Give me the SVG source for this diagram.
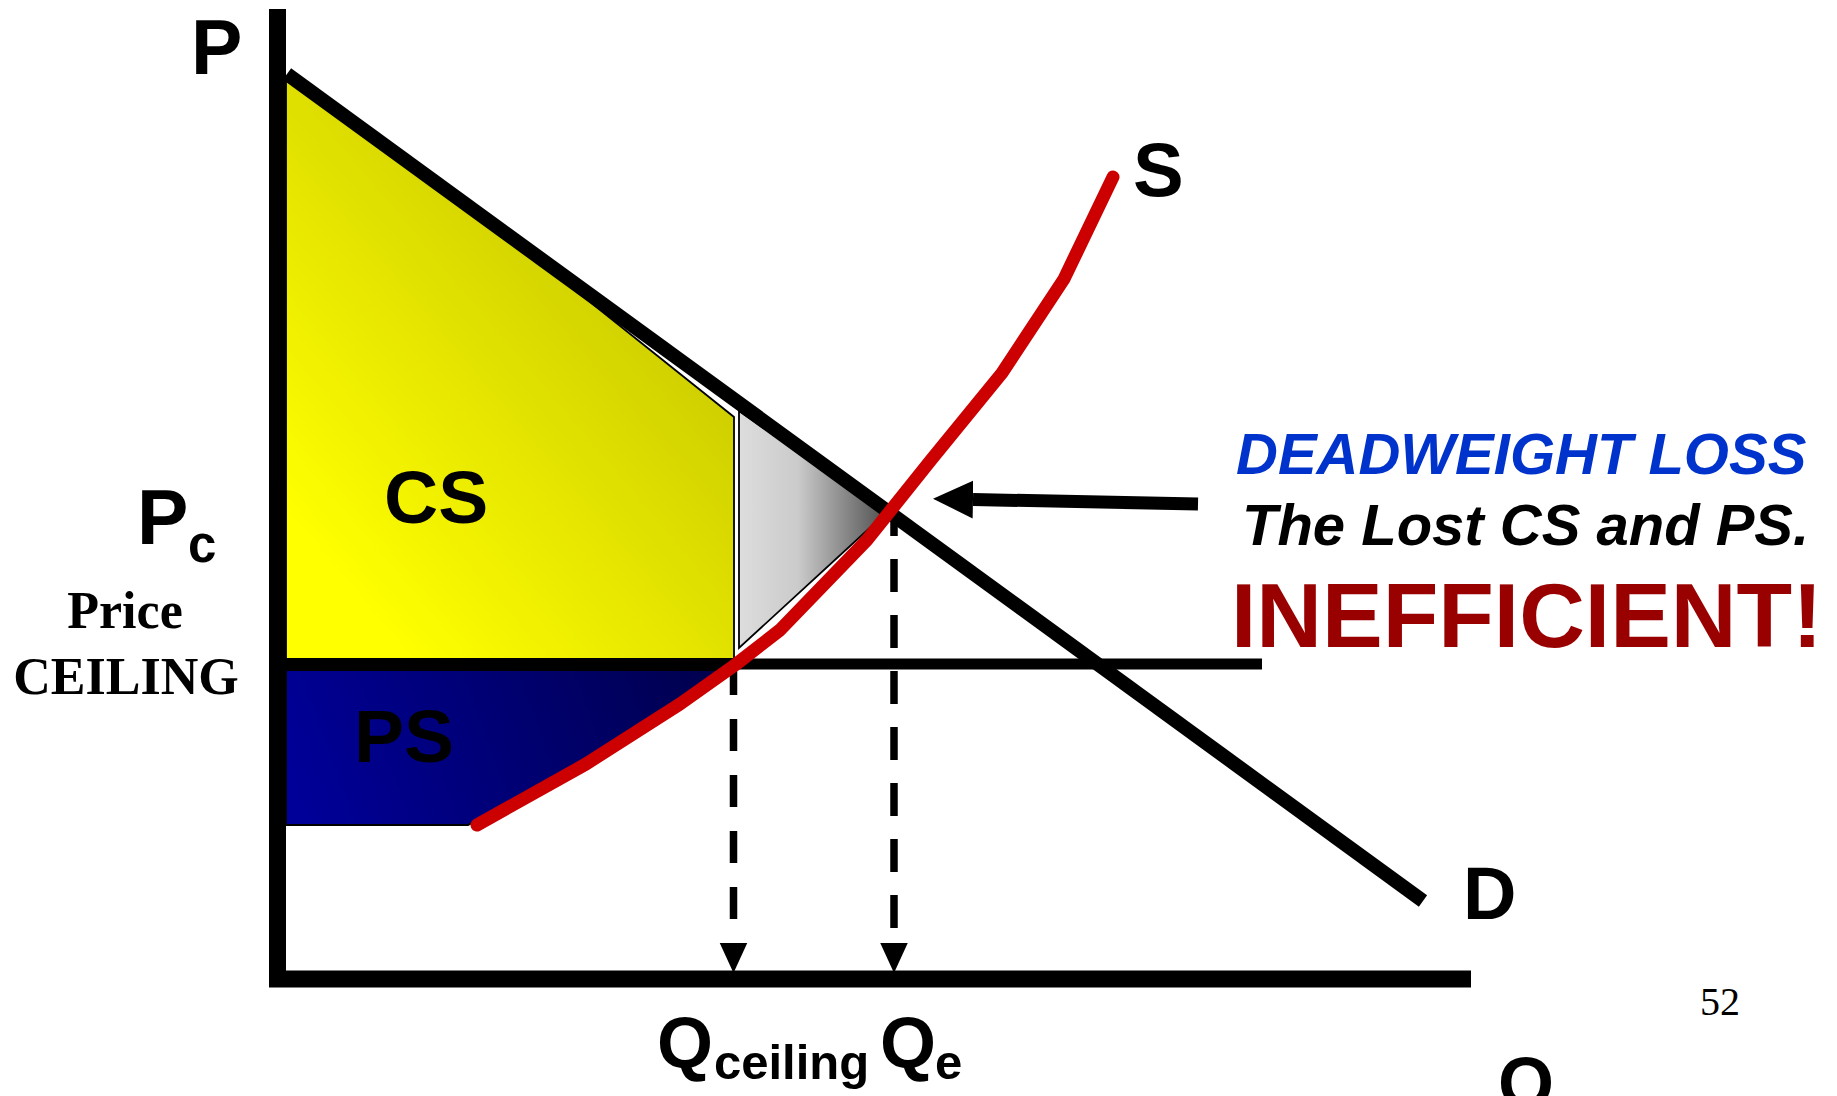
<svg xmlns="http://www.w3.org/2000/svg" width="1837" height="1096" viewBox="0 0 1837 1096">
<style>
.sans{font-family:"Liberation Sans",Arial,sans-serif;font-weight:bold;}
.serif{font-family:"Liberation Serif","Times New Roman",serif;}
.axis{stroke:#000;stroke-width:17;fill:none;}
.thick{stroke:#000;fill:none;}
.dash{stroke:#000;stroke-width:7.5;fill:none;}
.area{stroke:#000;stroke-width:1.8;}
</style>
<defs>
<linearGradient id="gYellow" gradientUnits="userSpaceOnUse" x1="230" y1="448" x2="565" y2="165">
<stop offset="0" stop-color="#FFFF00"/>
<stop offset="1" stop-color="#CCCC00"/>
</linearGradient>
<linearGradient id="gBlue" gradientUnits="userSpaceOnUse" x1="300" y1="820" x2="720" y2="670">
<stop offset="0" stop-color="#000099"/>
<stop offset="1" stop-color="#00004D"/>
</linearGradient>
<linearGradient id="gGray" gradientUnits="userSpaceOnUse" x1="739" y1="0" x2="886" y2="0">
<stop offset="0" stop-color="#DDDDDD"/>
<stop offset="0.4" stop-color="#CBCBCB"/>
<stop offset="1" stop-color="#505050"/>
</linearGradient>
<marker id="tri" markerUnits="userSpaceOnUse" markerWidth="30" markerHeight="30" refX="0" refY="11" orient="auto" viewBox="0 0 24 22">
<path d="M0,0 L24,11 L0,22 Z" fill="#000"/>
</marker>
<marker id="bigTri" markerUnits="userSpaceOnUse" markerWidth="40" markerHeight="40" refX="0" refY="18" orient="auto" viewBox="0 0 38 36">
<path d="M0,0 L38,18 L0,36 Z" fill="#000"/>
</marker>
</defs>
<rect width="1837" height="1096" fill="#fff"/>

<g id="cs-area">
<polygon class="area" fill="url(#gYellow)" points="286,76 500,230 734,417 734,659 286,659"/>
</g>
<g id="dwl-area">
<polygon class="area" fill="url(#gGray)" points="739,411 886,513 739,648"/>
</g>
<g id="ps-area">
<polygon class="area" fill="url(#gBlue)" points="286,670 728,670 680,705 586,764 468,825 286,825"/>
</g>

<g id="axes">
<line class="axis" x1="277.5" y1="9" x2="277.5" y2="987"/>
<line class="axis" x1="269" y1="979" x2="1471" y2="979" stroke-width="16"/>
</g>

<g id="price-ceiling">
<line class="thick" x1="286" y1="664" x2="1262" y2="664" stroke-width="11"/>
</g>

<g id="connectors">
<line class="dash" x1="733.5" y1="663" x2="733.5" y2="943" stroke-dasharray="32 24" marker-end="url(#tri)"/>
<line class="dash" x1="894" y1="512" x2="894" y2="943" stroke-dasharray="33 23" stroke-dashoffset="9" marker-end="url(#tri)"/>
<line x1="1198" y1="504" x2="973" y2="499.5" stroke="#000" stroke-width="13" marker-end="url(#bigTri)"/>
</g>

<g id="demand">
<line class="thick" x1="287" y1="74" x2="1423" y2="901" stroke-width="14"/>
</g>

<g id="supply">
<polyline points="477,825 586,764 680,704 735,665 780,630 867,540 931,460 1002,373 1064,279 1113,177" fill="none" stroke="#CC0000" stroke-width="13" stroke-linecap="round" stroke-linejoin="round"/>
</g>

<g id="labels">
<text class="sans" x="191" y="74" font-size="77">P</text>
<text class="sans" x="1133" y="196" font-size="76">S</text>
<text class="sans" x="1463" y="919" font-size="74">D</text>
<text class="sans" x="137" y="544" font-size="77">P</text>
<text class="sans" x="188" y="562" font-size="51">c</text>
<text class="serif" x="125" y="628" font-size="52" font-weight="bold" text-anchor="middle">Price</text>
<text class="serif" x="126" y="694" font-size="52" font-weight="bold" text-anchor="middle">CEILING</text>
<text class="sans" x="384" y="523" font-size="75">CS</text>
<text class="sans" x="354" y="762" font-size="75">PS</text>
<text class="sans" x="657" y="1068" font-size="72">Q</text>
<text class="sans" x="714" y="1079" font-size="49">ceiling</text>
<text class="sans" x="880" y="1068" font-size="72">Q</text>
<text class="sans" x="935" y="1079" font-size="49">e</text>
<text class="sans" x="1498" y="1108" font-size="72">Q</text>
<text class="sans" x="1236" y="474" font-size="58" font-style="italic" fill="#0033CC">DEADWEIGHT LOSS</text>
<text class="sans" x="1242" y="545" font-size="58" font-style="italic">The Lost CS and PS.</text>
<text class="sans" x="1231" y="647" font-size="91" fill="#990000">INEFFICIENT!</text>
<text class="serif" x="1700" y="1015" font-size="40">52</text>
</g>
</svg>
